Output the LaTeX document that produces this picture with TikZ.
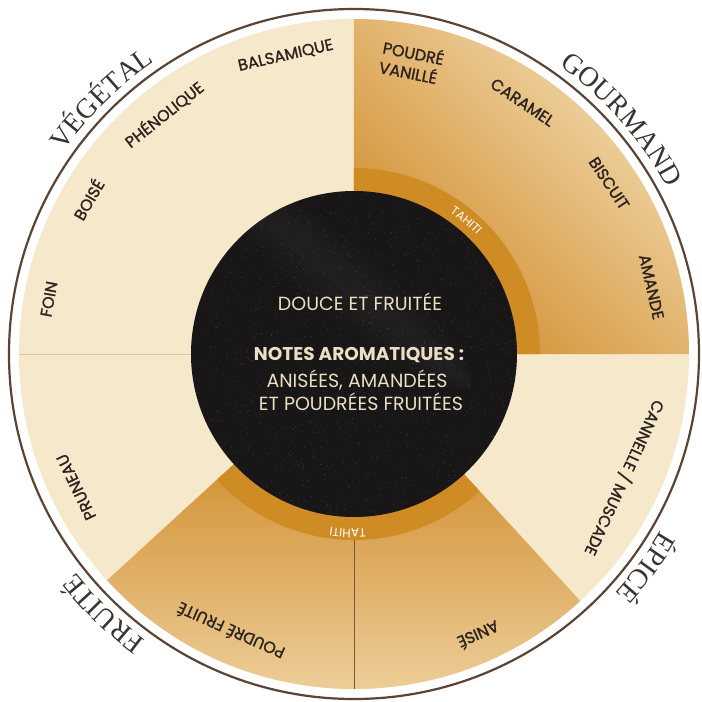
\documentclass[tikz,border=0pt]{standalone}
\usepackage{fontspec}
\usetikzlibrary{decorations.text}
\newfontfamily\lblfont{Poppins}[FakeBold=1.3]
\newfontfamily\midfont{Poppins}
\newfontfamily\catfont{Liberation Serif}
\definecolor{beige}{HTML}{F5E8CB}
\definecolor{goldD}{HTML}{D4953A}
\definecolor{goldL}{HTML}{EDCE9A}
\definecolor{bandc}{HTML}{CF8C25}
\definecolor{ringc}{HTML}{5A4436}
\definecolor{lbl}{HTML}{2B231E}
\definecolor{catc}{HTML}{3A3431}
\definecolor{cream}{HTML}{EADFC3}
\definecolor{disc}{HTML}{181616}
\definecolor{divl}{HTML}{D9C49C}
\definecolor{divd}{HTML}{7A5A35}
\begin{document}
\begin{tikzpicture}[x=1pt,y=1pt,
  lab/.style={font=\lblfont\fontsize{16}{20}\selectfont, text=lbl, inner sep=0pt, align=center},
  midtext/.style={font=\midfont\fontsize{19}{21}\selectfont, text=cream, inner sep=0pt},
  cattext/.style={decorate, decoration={text along path, text align=center, text color=catc,
     text={|\catfont\fontsize{28}{28}\selectfont|#1}}},
  tahiti/.style={decorate, decoration={text along path, text align=center, text color=white,
     text={|\midfont\fontsize{12}{12}\selectfont|#1}}}
]
\useasboundingbox[fill=white] (-354,-348) rectangle (348,354);
% outer ring
\draw[ringc, line width=2.2pt] (0,0) circle (345pt);
% beige wheel
\fill[beige] (0,0) circle (335pt);
% gourmand gold quadrant
\begin{scope}
  \clip (0,0) -- (0:335pt) arc[start angle=0,end angle=90,radius=335pt] -- cycle;
  \shade[transform canvas={rotate=-45}, bottom color=goldD, top color=goldL] (-360,110) rectangle (360,345);
\end{scope}
% bottom gold sectors
\begin{scope}
  \clip (0,0) -- (-137.5:335pt) arc[start angle=-137.5,end angle=-47.5,radius=335pt] -- cycle;
  \shade[top color=goldD, bottom color=goldL] (-340,-120) rectangle (340,-340);
\end{scope}
% tahiti band
\fill[bandc] (0,0) -- (0:186pt) arc[start angle=0,end angle=90,radius=186pt] -- cycle;
\fill[bandc] (0,0) -- (-137.5:186pt) arc[start angle=-137.5,end angle=-47.5,radius=186pt] -- cycle;
% dividers
\draw[divl, line width=0.9pt] (180:163pt) -- (180:335pt);
\draw[divd, line width=0.5pt] (-90:186pt) -- (-90:335pt);
% black disc
\fill[disc] (0,0) circle (163pt);
\begin{scope}
  \clip (0,0) circle (163pt);
  \foreach \w in {34,26,18,10}{
    \fill[white, opacity=0.012, rotate=-40] (-60,50) ellipse (170pt and \w pt);
  }
  \pgfmathsetseed{11}
  \foreach \i in {1,...,1600}{
    \pgfmathsetmacro\aa{360*rnd}
    \pgfmathsetmacro\rr{163*sqrt(rnd)}
    \fill[white, opacity=0.25] (\aa:\rr pt) circle (0.35pt);
  }
\end{scope}
% centre texts
\node[midtext] (douce) at (6,52) {DOUCE ET FRUITÉE};
\node[midtext, font=\midfont\bfseries\fontsize{18.5}{21}\selectfont] (notes) at (5,-1) {NOTES AROMATIQUES :};
\node[midtext] (anis) at (3,-26) {ANISÉES, AMANDÉES};
\node[midtext] (poud) at (7,-48) {ET POUDRÉES FRUITÉES};
% wedge labels
\node[lab, rotate=79.8] (foin) at (169.8:310pt) {FOIN};
\node[lab, rotate=59.8] (boise) at (149.8:308pt) {BOISÉ};
\node[lab, rotate=38.4] (pheno) at (128.4:306pt) {PHÉNOLIQUE};
\node[lab, rotate=12.9] (balsa) at (102.9:306pt) {BALSAMIQUE};
\node[lab, rotate=-11.2, align=left] (vanille) at (78.8:298pt) {POUDRÉ\\VANILLÉ};
\node[lab, rotate=-33.8] (caramel) at (56.2:303pt) {CARAMEL};
\node[lab, rotate=-56.2] (biscuit) at (33.8:307pt) {BISCUIT};
\node[lab, rotate=-77.3] (amande) at (12.7:305pt) {AMANDE};
\node[lab, rotate=-114.6] (cannelle) at (-24.6:298pt) {CANNELLE / MUSCADE};
\node[lab, rotate=-156.1] (anise) at (-66.1:308pt) {ANISÉ};
\node[lab, rotate=156] (pfruite) at (-114:304pt) {POUDRÉ FRUITÉ};
\node[lab, rotate=115.6] (pruneau) at (-154.4:308pt) {PRUNEAU};
% TAHITI
\path[tahiti=TAHITI] (75:171pt) arc[start angle=75,end angle=25,radius=171pt];
\path[tahiti=TAHITI] (-67:175pt) arc[start angle=-67,end angle=-117,radius=175pt];
% category names
\path[cattext=VÉGÉTAL] (165:354pt) arc[start angle=165,end angle=104.4,radius=354pt];
\path[cattext=GOURMAND] (75:354pt) arc[start angle=75,end angle=7.4,radius=354pt];
\path[cattext=ÉPICÉ] (-6:354pt) arc[start angle=-6,end angle=-66.4,radius=354pt];
\path[cattext=FRUITÉ] (-104:354pt) arc[start angle=-104,end angle=-164,radius=354pt];
\end{tikzpicture}
\end{document}
